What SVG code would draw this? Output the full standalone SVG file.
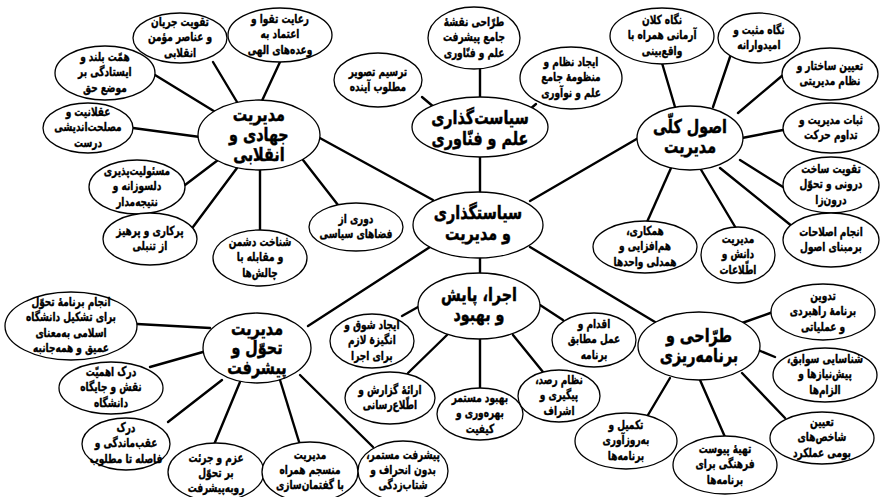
<svg xmlns="http://www.w3.org/2000/svg" width="881" height="497" viewBox="0 0 881 497">
<style>
.n ellipse{fill:#fff;stroke:#000;stroke-width:1.3}
.t{font-family:"DejaVu Sans Condensed","DejaVu Sans","Noto Sans",sans-serif;font-weight:bold;font-size:12.5px;fill:#000;stroke:#000;stroke-width:0.35;text-anchor:middle;direction:rtl;transform-box:fill-box;transform-origin:center;transform:scaleX(0.8)}
.t.m{font-size:19px;stroke-width:0.45;transform:scaleX(0.84)}
#connectors line{stroke:#000;stroke-width:2.4;stroke-linecap:round}
</style>
<rect width="881" height="497" fill="#fff"/>
<g id="connectors">
<line x1="213" y1="62" x2="240" y2="107"/>
<line x1="280" y1="62" x2="260" y2="105"/>
<line x1="155" y1="75" x2="217" y2="113"/>
<line x1="133" y1="128" x2="200" y2="137"/>
<line x1="185" y1="185" x2="218" y2="160"/>
<line x1="193" y1="227" x2="237" y2="168"/>
<line x1="260" y1="168" x2="260" y2="232"/>
<line x1="303" y1="160" x2="338" y2="205"/>
<line x1="318" y1="137" x2="433" y2="200"/>
<line x1="480" y1="157" x2="480" y2="193"/>
<line x1="480" y1="68" x2="480" y2="98"/>
<line x1="422" y1="97" x2="435" y2="108"/>
<line x1="536" y1="104" x2="529" y2="110"/>
<line x1="530" y1="201" x2="640" y2="137"/>
<line x1="662" y1="63" x2="675" y2="107"/>
<line x1="730" y1="57" x2="713" y2="107"/>
<line x1="783" y1="75" x2="738" y2="113"/>
<line x1="783" y1="130" x2="742" y2="138"/>
<line x1="783" y1="187" x2="740" y2="160"/>
<line x1="793" y1="227" x2="720" y2="168"/>
<line x1="737" y1="230" x2="700" y2="168"/>
<line x1="647" y1="222" x2="671" y2="168"/>
<line x1="480" y1="258" x2="480" y2="274"/>
<line x1="418" y1="307" x2="402" y2="316"/>
<line x1="447" y1="335" x2="408" y2="373"/>
<line x1="480" y1="339" x2="480" y2="388"/>
<line x1="513" y1="335" x2="543" y2="372"/>
<line x1="540" y1="305" x2="563" y2="320"/>
<line x1="430" y1="247" x2="308" y2="326"/>
<line x1="530" y1="247" x2="655" y2="322"/>
<line x1="742" y1="323" x2="773" y2="312"/>
<line x1="758" y1="350" x2="775" y2="357"/>
<line x1="742" y1="373" x2="785" y2="418"/>
<line x1="700" y1="380" x2="725" y2="437"/>
<line x1="670" y1="378" x2="648" y2="415"/>
<line x1="137" y1="324" x2="210" y2="328"/>
<line x1="150" y1="367" x2="210" y2="350"/>
<line x1="168" y1="422" x2="222" y2="380"/>
<line x1="213" y1="447" x2="240" y2="382"/>
<line x1="280" y1="380" x2="300" y2="445"/>
<line x1="300" y1="375" x2="373" y2="447"/>
</g>

<g id="n-jihadi" class="n"><ellipse cx="259" cy="135" rx="61" ry="35"/><text class="t m" x="259" y="121"><tspan x="259">مدیریت</tspan><tspan x="259" dy="20">جهادی و</tspan><tspan x="259" dy="20">انقلابی</tspan></text></g>
<g id="n-taghviat-jarian" class="n"><ellipse cx="180" cy="38" rx="47" ry="25"/><text class="t" x="180" y="26"><tspan x="180">تقویت جریان</tspan><tspan x="180" dy="15.5">و عناصر مؤمن</tspan><tspan x="180" dy="15.5">انقلابی</tspan></text></g>
<g id="n-taghva" class="n"><ellipse cx="280" cy="35" rx="52" ry="27"/><text class="t" x="280" y="23"><tspan x="280">رعایت تقوا و</tspan><tspan x="280" dy="15.5">اعتماد به</tspan><tspan x="280" dy="15.5">وعده‌های الهی</tspan></text></g>
<g id="n-hemmat" class="n"><ellipse cx="105" cy="73" rx="50" ry="27"/><text class="t" x="105" y="61"><tspan x="105">همّت بلند و</tspan><tspan x="105" dy="15.5">ایستادگی بر</tspan><tspan x="105" dy="15.5">موضع حق</tspan></text></g>
<g id="n-aghlaniat" class="n"><ellipse cx="88" cy="128" rx="45" ry="25"/><text class="t" x="88" y="116"><tspan x="88">عقلانیت و</tspan><tspan x="88" dy="15.5">مصلحت‌اندیشی</tspan><tspan x="88" dy="15.5">درست</tspan></text></g>
<g id="n-masouliat" class="n"><ellipse cx="137" cy="187" rx="48" ry="27"/><text class="t" x="137" y="175"><tspan x="137">مسئولیت‌پذیری</tspan><tspan x="137" dy="15.5">دلسوزانه و</tspan><tspan x="137" dy="15.5">نتیجه‌مدار</tspan></text></g>
<g id="n-porkari" class="n"><ellipse cx="150" cy="239" rx="47" ry="26"/><text class="t" x="150" y="235"><tspan x="150">پرکاری و پرهیز</tspan><tspan x="150" dy="15.5">از تنبلی</tspan></text></g>
<g id="n-doshman" class="n"><ellipse cx="260" cy="258" rx="47" ry="28"/><text class="t" x="260" y="246"><tspan x="260">شناخت دشمن</tspan><tspan x="260" dy="15.5">و مقابله با</tspan><tspan x="260" dy="15.5">چالش‌ها</tspan></text></g>
<g id="n-doori" class="n"><ellipse cx="356" cy="227" rx="47" ry="24"/><text class="t" x="356" y="223"><tspan x="356">دوری از</tspan><tspan x="356" dy="15.5">فضاهای سیاسی</tspan></text></g>

<g id="n-elm" class="n"><ellipse cx="480" cy="127" rx="68" ry="30"/><text class="t m" x="480" y="124"><tspan x="480">سیاست‌گذاری</tspan><tspan x="480" dy="21">علم و فنّاوری</tspan></text></g>
<g id="n-tarsim" class="n"><ellipse cx="378" cy="80" rx="44" ry="27"/><text class="t" x="378" y="76"><tspan x="378">ترسیم تصویر</tspan><tspan x="378" dy="15.5">مطلوب آینده</tspan></text></g>
<g id="n-naghshe" class="n"><ellipse cx="474" cy="38" rx="46" ry="31"/><text class="t" x="474" y="26"><tspan x="474">طرّاحی نقشهٔ</tspan><tspan x="474" dy="15.5">جامع پیشرفت</tspan><tspan x="474" dy="15.5">علم و فنّاوری</tspan></text></g>
<g id="n-nezam" class="n"><ellipse cx="571" cy="78" rx="51" ry="31"/><text class="t" x="571" y="66"><tspan x="571">ایجاد نظام و</tspan><tspan x="571" dy="15.5">منظومهٔ جامع</tspan><tspan x="571" dy="15.5">علم و نوآوری</tspan></text></g>

<g id="n-center" class="n"><ellipse cx="478" cy="225" rx="65" ry="33"/><text class="t m" x="478" y="219"><tspan x="478">سیاستگذاری</tspan><tspan x="478" dy="21">و مدیریت</tspan></text></g>

<g id="n-osul" class="n"><ellipse cx="690" cy="138" rx="53" ry="32"/><text class="t m" x="690" y="133"><tspan x="690">اصول کلّی</tspan><tspan x="690" dy="20">مدیریت</tspan></text></g>
<g id="n-negah-kalan" class="n"><ellipse cx="662" cy="36" rx="52" ry="28"/><text class="t" x="662" y="24"><tspan x="662">نگاه کلان</tspan><tspan x="662" dy="15.5">آرمانی همراه با</tspan><tspan x="662" dy="15.5">واقع‌بینی</tspan></text></g>
<g id="n-negah-mosbat" class="n"><ellipse cx="759" cy="38" rx="41" ry="25"/><text class="t" x="759" y="34"><tspan x="759">نگاه مثبت و</tspan><tspan x="759" dy="15.5">امیدوارانه</tspan></text></g>
<g id="n-sakhtar" class="n"><ellipse cx="830" cy="74" rx="48" ry="26"/><text class="t" x="830" y="70"><tspan x="830">تعیین ساختار و</tspan><tspan x="830" dy="15.5">نظام مدیریتی</tspan></text></g>
<g id="n-sobat" class="n"><ellipse cx="831" cy="128" rx="48" ry="25"/><text class="t" x="831" y="124"><tspan x="831">ثبات مدیریت و</tspan><tspan x="831" dy="15.5">تداوم حرکت</tspan></text></g>
<g id="n-sakht-darooni" class="n"><ellipse cx="831" cy="185" rx="48" ry="28"/><text class="t" x="831" y="173"><tspan x="831">تقویت ساخت</tspan><tspan x="831" dy="15.5">درونی و تحوّل</tspan><tspan x="831" dy="15.5">درون‌زا</tspan></text></g>
<g id="n-eslahat" class="n"><ellipse cx="831" cy="240" rx="48" ry="27"/><text class="t" x="831" y="236"><tspan x="831">انجام اصلاحات</tspan><tspan x="831" dy="15.5">برمبنای اصول</tspan></text></g>
<g id="n-hamkari" class="n"><ellipse cx="645" cy="247" rx="52" ry="26"/><text class="t" x="645" y="235"><tspan x="645">همکاری،</tspan><tspan x="645" dy="15.5">هم‌افزایی و</tspan><tspan x="645" dy="15.5">همدلی واحدها</tspan></text></g>
<g id="n-danesh" class="n"><ellipse cx="738" cy="255" rx="37" ry="28"/><text class="t" x="738" y="243"><tspan x="738">مدیریت</tspan><tspan x="738" dy="15.5">دانش و</tspan><tspan x="738" dy="15.5">اطّلاعات</tspan></text></g>

<g id="n-ejra" class="n"><ellipse cx="479" cy="306" rx="61" ry="33"/><text class="t m" x="479" y="301"><tspan x="479">اجرا، پایش</tspan><tspan x="479" dy="20">و بهبود</tspan></text></g>
<g id="n-shogh" class="n"><ellipse cx="372" cy="341" rx="42" ry="27"/><text class="t" x="372" y="329"><tspan x="372">ایجاد شوق و</tspan><tspan x="372" dy="15.5">انگیزهٔ لازم</tspan><tspan x="372" dy="15.5">برای اجرا</tspan></text></g>
<g id="n-gozaresh" class="n"><ellipse cx="390" cy="398" rx="45" ry="26"/><text class="t" x="390" y="394"><tspan x="390">ارائهٔ گزارش و</tspan><tspan x="390" dy="15.5">اطّلاع‌رسانی</tspan></text></g>
<g id="n-behbood" class="n"><ellipse cx="480" cy="414" rx="43" ry="26"/><text class="t" x="480" y="402"><tspan x="480">بهبود مستمر</tspan><tspan x="480" dy="15.5">بهره‌وری و</tspan><tspan x="480" dy="15.5">کیفیت</tspan></text></g>
<g id="n-rasad" class="n"><ellipse cx="559" cy="396" rx="41" ry="26"/><text class="t" x="559" y="384"><tspan x="559">نظام رصد،</tspan><tspan x="559" dy="15.5">پیگیری و</tspan><tspan x="559" dy="15.5">اشراف</tspan></text></g>
<g id="n-eghdam" class="n"><ellipse cx="594" cy="340" rx="42" ry="27"/><text class="t" x="594" y="328"><tspan x="594">اقدام و</tspan><tspan x="594" dy="15.5">عمل مطابق</tspan><tspan x="594" dy="15.5">برنامه</tspan></text></g>

<g id="n-tarrahi" class="n"><ellipse cx="699" cy="346" rx="61" ry="34"/><text class="t m" x="699" y="342"><tspan x="699">طرّاحی و</tspan><tspan x="699" dy="20">برنامه‌ریزی</tspan></text></g>
<g id="n-tadvin" class="n"><ellipse cx="823" cy="312" rx="52" ry="28"/><text class="t" x="823" y="300"><tspan x="823">تدوین</tspan><tspan x="823" dy="15.5">برنامهٔ راهبردی</tspan><tspan x="823" dy="15.5">و عملیاتی</tspan></text></g>
<g id="n-shenasaei" class="n"><ellipse cx="825" cy="375" rx="52" ry="27"/><text class="t" x="825" y="363"><tspan x="825">شناسایی سوابق،</tspan><tspan x="825" dy="15.5">پیش‌نیازها و</tspan><tspan x="825" dy="15.5">الزام‌ها</tspan></text></g>
<g id="n-shakhes" class="n"><ellipse cx="822" cy="438" rx="52" ry="26"/><text class="t" x="822" y="426"><tspan x="822">تعیین</tspan><tspan x="822" dy="15.5">شاخص‌های</tspan><tspan x="822" dy="15.5">بومی عملکرد</tspan></text></g>
<g id="n-peyvast" class="n"><ellipse cx="725" cy="465" rx="52" ry="29"/><text class="t" x="725" y="453"><tspan x="725">تهیهٔ پیوست</tspan><tspan x="725" dy="15.5">فرهنگی برای</tspan><tspan x="725" dy="15.5">برنامه‌ها</tspan></text></g>
<g id="n-takmil" class="n"><ellipse cx="626" cy="441" rx="51" ry="28"/><text class="t" x="626" y="429"><tspan x="626">تکمیل و</tspan><tspan x="626" dy="15.5">به‌روزآوری</tspan><tspan x="626" dy="15.5">برنامه‌ها</tspan></text></g>

<g id="n-tahavol" class="n"><ellipse cx="257" cy="348" rx="54" ry="35"/><text class="t m" x="257" y="335"><tspan x="257">مدیریت</tspan><tspan x="257" dy="19.5">تحوّل و</tspan><tspan x="257" dy="19.5">پیشرفت</tspan></text></g>
<g id="n-barname-tahavol" class="n"><ellipse cx="71" cy="326" rx="66" ry="34"/><text class="t" x="71" y="306"><tspan x="71">انجام برنامهٔ تحوّل</tspan><tspan x="71" dy="15.3">برای تشکیل دانشگاه</tspan><tspan x="71" dy="15.3">اسلامی به‌معنای</tspan><tspan x="71" dy="15.3">عمیق و همه‌جانبه</tspan></text></g>
<g id="n-ahamiat" class="n"><ellipse cx="111" cy="388" rx="52" ry="26"/><text class="t" x="111" y="376"><tspan x="111">درک اهمیّت</tspan><tspan x="111" dy="15.5">نقش و جایگاه</tspan><tspan x="111" dy="15.5">دانشگاه</tspan></text></g>
<g id="n-aghab" class="n"><ellipse cx="126" cy="444" rx="44" ry="26"/><text class="t" x="126" y="432"><tspan x="126">درک</tspan><tspan x="126" dy="15.5">عقب‌ماندگی و</tspan><tspan x="126" dy="15.5">فاصله تا مطلوب</tspan></text></g>
<g id="n-azm" class="n"><ellipse cx="216" cy="472" rx="48" ry="29"/><text class="t" x="216" y="462"><tspan x="216">عزم و جرئت</tspan><tspan x="216" dy="15">بر تحوّل</tspan><tspan x="216" dy="15">روبه‌پیشرفت</tspan></text></g>
<g id="n-monsajem" class="n"><ellipse cx="310" cy="472" rx="48" ry="30"/><text class="t" x="310" y="459"><tspan x="310">مدیریت</tspan><tspan x="310" dy="15">منسجم همراه</tspan><tspan x="310" dy="15">با گفتمان‌سازی</tspan></text></g>
<g id="n-pishraft" class="n"><ellipse cx="403" cy="471" rx="45" ry="30"/><text class="t" x="403" y="459"><tspan x="403">پیشرفت مستمر،</tspan><tspan x="403" dy="15">بدون انحراف و</tspan><tspan x="403" dy="15">شتاب‌زدگی</tspan></text></g>
</svg>
